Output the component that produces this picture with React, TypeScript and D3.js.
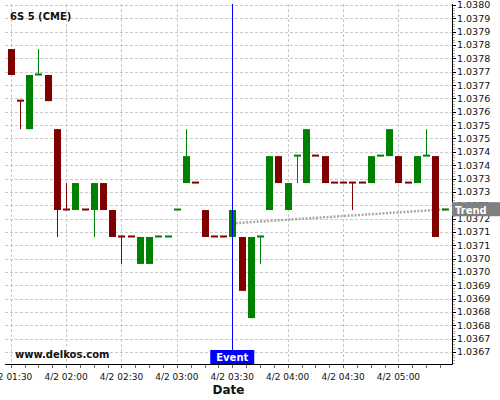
import React from "react";
import * as d3 from "d3";

// ---- data ----
const TITLE = "6S 5 (CME)";
const WATERMARK = "www.delkos.com";
const X_LABEL = "Date";

const TIMES = [
  "01:30", "01:35", "01:40", "01:45", "01:50", "01:55",
  "02:00", "02:05", "02:10", "02:15", "02:20", "02:25",
  "02:30", "02:35", "02:40", "02:45", "02:50", "02:55",
  "03:00", "03:05", "03:10", "03:15", "03:20", "03:25",
  "03:30", "03:35", "03:40", "03:45", "03:50", "03:55",
  "04:00", "04:05", "04:10", "04:15", "04:20", "04:25",
  "04:30", "04:35", "04:40", "04:45", "04:50", "04:55",
  "05:00", "05:05", "05:10", "05:15", "05:20", "05:25",
];

const OPEN = [
  1.037835, 1.03764, 1.037535, 1.037738, 1.037738, 1.037535,
  1.037232, 1.037232, 1.037232, 1.037232, 1.037333, 1.037232,
  1.037131, 1.037131, 1.03703, 1.03703, 1.037131, 1.037131,
  1.037232, 1.037333, 1.037333, 1.037232, 1.037131, 1.037131,
  1.037131, 1.037131, 1.036827, 1.037131, 1.037232, 1.037434,
  1.037232, 1.037434, 1.037333, 1.037434, 1.037434, 1.037333,
  1.037333, 1.037333, 1.037333, 1.037333, 1.037434, 1.037434,
  1.037434, 1.037333, 1.037333, 1.037434, 1.037434, 1.037232,
];
const HIGH = [
  1.037835, 1.03764, 1.037738, 1.037835, 1.037738, 1.037535,
  1.037333, 1.037333, 1.037232, 1.037333, 1.037333, 1.037232,
  1.037131, 1.037131, 1.037131, 1.037131, 1.037131, 1.037131,
  1.037232, 1.037535, 1.037333, 1.037232, 1.037131, 1.037131,
  1.037232, 1.037131, 1.037131, 1.037131, 1.037434, 1.037434,
  1.037333, 1.037434, 1.037535, 1.037434, 1.037434, 1.037333,
  1.037333, 1.037333, 1.037333, 1.037434, 1.037434, 1.037535,
  1.037434, 1.037333, 1.037434, 1.037535, 1.037434, 1.037232,
];
const LOW = [
  1.037738, 1.037535, 1.037535, 1.037738, 1.03764, 1.037131,
  1.037232, 1.037232, 1.037232, 1.037131, 1.037232, 1.037131,
  1.03703, 1.037131, 1.03703, 1.03703, 1.037131, 1.037131,
  1.037232, 1.037333, 1.037333, 1.037131, 1.037131, 1.037131,
  1.037131, 1.036929, 1.036827, 1.03703, 1.037232, 1.037333,
  1.037232, 1.037333, 1.037333, 1.037434, 1.037333, 1.037333,
  1.037333, 1.037232, 1.037333, 1.037333, 1.037434, 1.037434,
  1.037333, 1.037333, 1.037333, 1.037434, 1.037131, 1.037232,
];
const CLOSE = [
  1.037738, 1.03764, 1.037738, 1.037738, 1.03764, 1.037232,
  1.037232, 1.037333, 1.037232, 1.037333, 1.037232, 1.037131,
  1.037131, 1.037131, 1.037131, 1.037131, 1.037131, 1.037131,
  1.037232, 1.037434, 1.037333, 1.037131, 1.037131, 1.037131,
  1.037232, 1.036929, 1.037131, 1.037131, 1.037434, 1.037333,
  1.037333, 1.037434, 1.037535, 1.037434, 1.037333, 1.037333,
  1.037333, 1.037333, 1.037333, 1.037434, 1.037434, 1.037535,
  1.037333, 1.037333, 1.037434, 1.037434, 1.037131, 1.037232,
];

const Y_TICKS = [
  1.038, 1.03795, 1.0379, 1.03785, 1.0378, 1.03775, 1.0377, 1.03765, 1.0376,
  1.03755, 1.0375, 1.03745, 1.0374, 1.03735, 1.0373, 1.03725, 1.0372, 1.03715,
  1.0371, 1.03705, 1.037, 1.03695, 1.0369, 1.03685, 1.0368, 1.03675, 1.0367,
];
const Y_TICK_LABELS = [
  "1.0380", "1.0379", "1.0379", "1.0378", "1.0378", "1.0377", "1.0377", "1.0376", "1.0376",
  "1.0375", "1.0375", "1.0374", "1.0374", "1.0373", "1.0373", "1.0372", "1.0372", "1.0371",
  "1.0371", "1.0370", "1.0370", "1.0369", "1.0369", "1.0368", "1.0368", "1.0367", "1.0367",
];

const EVENT_TIME = "03:30";
const EVENT_LABEL = "Event";
const TREND_TIMES = ["03:30", "05:26"];
const TREND_VALUES = [1.037182, 1.037235];
const TREND_LABEL = "Trend";

const DAY = "2024-04-02";
const X_DOMAIN = ["01:26:55", "05:29:00"];
const Y_DOMAIN = [1.036655, 1.038004];

// ---- helpers ----
const toDate = (t: string) => new Date(`${DAY}T${t.length === 5 ? t + ":00" : t}Z`);
const FONT = "DejaVu Sans, Verdana, sans-serif";

export default function App() {
  const W = 500, H = 400;
  const left = 5, right = 452, top = 4, bottom = 364;

  const x = d3.scaleUtc().domain(X_DOMAIN.map(toDate)).range([left, right]);
  const y = d3.scaleLinear().domain(Y_DOMAIN).range([bottom, top]);

  const majorX = x.ticks(d3.utcMinute.every(30) as any);
  const minorX: Date[] = [];
  const step = 7.5 * 60 * 1000;
  for (let t = majorX[0].getTime(); t <= x.domain()[1].getTime(); t += step) minorX.push(new Date(t));

  const fmt = d3.utcFormat("%-m/%-d %H:%M");

  const candles = TIMES.map((t, i) => ({
    t: toDate(t), o: OPEN[i], h: HIGH[i], l: LOW[i], c: CLOSE[i],
  }));
  const colors: string[] = [];
  candles.forEach((d, i) => {
    let up: boolean;
    if (d.c !== d.o) up = d.c > d.o;
    else if (i > 0 && d.c !== candles[i - 1].c) up = d.c > candles[i - 1].c;
    else up = i > 0 ? colors[i - 1] === "#008000" : false;
    colors.push(up ? "#008000" : "#800000");
  });

  const yStep = Math.abs(y(Y_TICKS[0]) - y(Y_TICKS[1]));
  const minorY: number[] = [];
  Y_TICKS.forEach((v) => {
    for (let k = 1; k < 5; k++) minorY.push(y(v) + (k * yStep) / 5);
  });
  minorY.push(...[1, 2, 3].map((k) => y(Y_TICKS[0]) - (k * yStep) / 5).filter((p) => p >= top));

  const ex = x(toDate(EVENT_TIME));
  const tx0 = x(toDate(TREND_TIMES[0])), ty0 = y(TREND_VALUES[0]);
  const tx1 = x(toDate(TREND_TIMES[1])), ty1 = y(TREND_VALUES[1]);
  const bw = 7;

  return (
    <svg width={W} height={H} style={{ position: "fixed", left: 0, top: 0, background: "#fff" }} fontFamily={FONT}>
      <rect x={0} y={0} width={W} height={H} fill="#fff" />
      {/* grid */}
      <g stroke="#c8c8c8" strokeWidth={1} strokeDasharray="3,2">
        {Y_TICKS.map((v, i) => (
          <line key={"gy" + i} x1={left} x2={right} y1={Math.round(y(v)) + 0.5} y2={Math.round(y(v)) + 0.5} />
        ))}
        {majorX.map((t, i) => (
          <line key={"gx" + i} x1={Math.round(x(t)) + 0.5} x2={Math.round(x(t)) + 0.5} y1={top} y2={bottom} />
        ))}
      </g>

      {/* title & watermark */}
      <text x={10} y={19.5} fontSize={10} fontWeight="bold" fill="#111">{TITLE}</text>
      <text x={15} y={358} fontSize={10} fontWeight="bold" fill="#111">{WATERMARK}</text>

      {/* trend line */}
      <line x1={tx0} y1={ty0} x2={tx1} y2={ty1} stroke="#a8a8a8" strokeWidth={2.5} strokeDasharray="2,1.5" />

      {/* candles */}
      {candles.map((d, i) => {
        const cx = Math.round(x(d.t));
        const col = colors[i];
        const yo = y(d.o), yc = y(d.c);
        const y1 = Math.min(yo, yc), y2 = Math.max(yo, yc);
        return (
          <g key={"c" + i}>
            {y(d.h) < y(d.l) - 0.5 && (
              <line x1={cx + 0.5} x2={cx + 0.5} y1={y(d.h)} y2={y(d.l)} stroke={col} strokeWidth={1} />
            )}
            {y2 - y1 > 1 ? (
              <rect x={cx - 3} y={y1} width={bw} height={y2 - y1} fill={col} />
            ) : (
              <rect x={cx - 3} y={y1 - 1.5} width={bw} height={2} fill={col} />
            )}
          </g>
        );
      })}

      {/* event line */}
      <line x1={Math.round(ex) + 0.5} x2={Math.round(ex) + 0.5} y1={top} y2={bottom} stroke="#0000ff" strokeWidth={1} />

      {/* axes */}
      <line x1={left} x2={right + 0.5} y1={bottom + 0.5} y2={bottom + 0.5} stroke="#000" strokeWidth={1} />
      <line x1={right + 0.5} x2={right + 0.5} y1={top} y2={bottom + 0.5} stroke="#000" strokeWidth={1} />
      <g stroke="#666" strokeWidth={1}>
        {minorX.map((t, i) => (
          <line key={"mx" + i} x1={Math.round(x(t)) + 0.5} x2={Math.round(x(t)) + 0.5} y1={bottom + 1} y2={bottom + 4} />
        ))}
        {minorY.map((p, i) => (
          <line key={"my" + i} x1={right + 1} x2={right + 3} y1={Math.round(p) + 0.5} y2={Math.round(p) + 0.5} stroke="#aaa" />
        ))}
        {Y_TICKS.map((v, i) => (
          <line key={"ty" + i} x1={right + 1} x2={right + 4} y1={Math.round(y(v)) + 0.5} y2={Math.round(y(v)) + 0.5} stroke="#000" />
        ))}
      </g>
      {majorX.map((t, i) => (
        <text key={"lx" + i} x={x(t)} y={379.5} fontSize={9} textAnchor="middle" fill="#111">{fmt(t)}</text>
      ))}
      {Y_TICKS.map((v, i) => (
        <text key={"ly" + i} x={457} y={y(v) + 3.4} fontSize={9.5} fill="#111">{Y_TICK_LABELS[i]}</text>
      ))}
      <text x={(left + right) / 2} y={394} fontSize={12} fontWeight="bold" textAnchor="middle" fill="#111">{X_LABEL}</text>

      {/* event label */}
      <rect x={ex - 22} y={350} width={44} height={14} fill="#0000ff" />
      <text x={ex} y={360.7} fontSize={10} fontWeight="bold" fill="#fff" textAnchor="middle">{EVENT_LABEL}</text>

      {/* trend label */}
      <rect x={right} y={ty1 - 7} width={W - right} height={14} fill="#808080" />
      <text x={455} y={ty1 + 4.6} fontSize={10} fontWeight="bold" fill="#fff">{TREND_LABEL}</text>
    </svg>
  );
}
